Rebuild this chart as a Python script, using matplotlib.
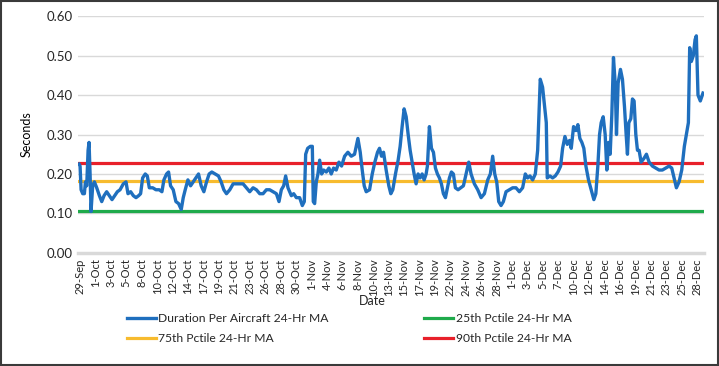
"""
Duration per aircraft (24-hr moving average) with percentile reference lines.
Writes out.png.
"""

from datetime import datetime, timedelta

import matplotlib
matplotlib.use("Agg")
import matplotlib.pyplot as plt
from matplotlib.patches import Rectangle

# ── data ─────────────────────────────────────────────────────────────────────

START = datetime(2018, 9, 29)

# days since 29-Sep 00:00
days = [
    -0.15, 0.0, 0.15, 0.39, 0.63, 0.78, 0.97, 1.17, 1.31, 1.46, 1.6, 1.84,
    2.09, 2.43, 2.82, 3.16, 3.5, 3.88, 4.27, 4.66, 5.05, 5.44, 5.83, 6.31,
    6.7, 6.99, 7.38, 7.77, 8.16, 8.54, 8.83, 9.13, 9.51, 9.81, 10.1, 10.6,
    11.07, 11.55, 11.94, 12.23, 12.62, 12.91, 13.2, 13.59, 13.98, 14.37,
    14.76, 15.05, 15.34, 15.73, 16.12, 16.5, 16.89, 17.28, 17.67, 18.06,
    18.45, 18.83, 19.22, 19.71, 20.19, 20.58, 20.97, 21.36, 21.84,
    22.33, 23.05, 23.78, 24.27, 24.75, 25.24, 25.72, 26.21, 26.69, 27.18,
    27.66, 28.15, 28.64, 29.02, 29.36, 29.7, 29.99, 30.33, 30.82, 31.16,
    31.55, 32.03, 32.42, 32.71, 32.91, 33.2, 33.59, 33.88, 34.02, 34.22,
    34.46, 34.7, 34.95, 35.24, 35.53, 35.92, 36.3, 36.64, 36.98, 37.37,
    37.76, 38.15, 38.59, 39.07, 39.56, 40.04, 40.29, 40.53, 40.87, 41.16,
    41.45, 41.74, 42.23, 42.62, 43.0, 43.39, 43.68, 43.97, 44.27, 44.65,
    45.04, 45.33, 45.62, 46.01, 46.4, 46.69, 46.98, 47.27, 47.57, 47.86,
    48.15, 48.44, 48.73, 49.02, 49.31, 49.6, 49.9, 50.19, 50.48, 50.67,
    50.96, 51.26, 51.55, 51.84, 52.13, 52.42, 52.71, 53.0, 53.3, 53.59,
    53.88, 54.17, 54.46, 54.75, 55.14, 55.53, 55.92, 56.31, 56.7, 57.04,
    57.52, 58.01, 58.5, 58.98, 59.47, 59.85, 60.19, 60.49, 60.78, 61.07,
    61.41, 61.75, 62.14, 62.62, 63.11, 63.59, 64.08, 64.56, 64.95, 65.29,
    65.63, 66.02, 66.41, 66.75, 66.94, 67.13, 67.47, 67.77, 68.01, 68.15,
    68.54, 68.93, 69.32, 69.71, 70.1, 70.39, 70.73, 71.07, 71.41, 71.65,
    71.99, 72.33, 72.62, 72.91, 73.2, 73.49, 73.79, 74.17, 74.56, 74.95,
    75.24, 75.53, 75.78, 76.02, 76.31, 76.6, 76.84, 77.09, 77.33, 77.57,
    77.81, 78.06, 78.25, 78.49, 78.83, 79.12, 79.42, 79.66, 79.85, 80.05,
    80.34, 80.58, 80.82, 81.07, 81.31, 81.55, 81.84, 82.28, 82.62, 83.01,
    83.49, 83.98, 84.46, 84.95, 85.43, 85.92, 86.31, 86.65, 86.99, 87.38,
    87.77, 88.15, 88.45, 88.74, 88.93, 89.17, 89.46, 89.71, 89.9, 90.14,
    90.48, 90.87,
]

duration = [
    0.225, 0.22, 0.16, 0.15, 0.15, 0.18, 0.17, 0.26, 0.28, 0.2, 0.105, 0.17,
    0.18, 0.165, 0.145, 0.13, 0.145, 0.155, 0.145, 0.135, 0.145, 0.155,
    0.16, 0.175, 0.18, 0.15, 0.155, 0.145, 0.14, 0.145, 0.15, 0.19, 0.2,
    0.195, 0.165, 0.165, 0.16, 0.16, 0.155, 0.185, 0.2, 0.205, 0.17, 0.16,
    0.13, 0.125, 0.11, 0.14, 0.16, 0.185, 0.17, 0.18, 0.19, 0.2, 0.17,
    0.155, 0.18, 0.2, 0.205, 0.2, 0.195, 0.18, 0.16, 0.15, 0.16,
    0.175, 0.175, 0.175, 0.165, 0.155, 0.165, 0.16, 0.15, 0.15, 0.16,
    0.16, 0.155, 0.15, 0.13, 0.16, 0.17, 0.195, 0.165, 0.145, 0.15,
    0.14, 0.14, 0.12, 0.13, 0.25, 0.265, 0.27, 0.27, 0.13, 0.125,
    0.18, 0.2, 0.235, 0.2, 0.21, 0.205, 0.215, 0.2, 0.215, 0.21,
    0.23, 0.22, 0.245, 0.255, 0.245, 0.25, 0.27, 0.29, 0.255, 0.21,
    0.17, 0.155, 0.16, 0.2, 0.23, 0.255, 0.265, 0.245, 0.255, 0.21,
    0.17, 0.15, 0.16, 0.2, 0.235, 0.27, 0.32, 0.365, 0.345, 0.3,
    0.26, 0.23, 0.2, 0.175, 0.2, 0.19, 0.2, 0.185, 0.2, 0.22,
    0.32, 0.265, 0.255, 0.215, 0.2, 0.19, 0.175, 0.15, 0.14, 0.165,
    0.19, 0.205, 0.2, 0.165, 0.16, 0.165, 0.17, 0.2, 0.23, 0.2,
    0.175, 0.16, 0.14, 0.15, 0.185, 0.2, 0.245, 0.2, 0.18, 0.13,
    0.12, 0.13, 0.155, 0.16, 0.165, 0.165, 0.155, 0.165, 0.2, 0.19,
    0.195, 0.185, 0.2, 0.26, 0.35, 0.44, 0.42, 0.37, 0.33, 0.19,
    0.195, 0.19, 0.195, 0.205, 0.22, 0.265, 0.295, 0.275, 0.285, 0.265,
    0.32, 0.31, 0.325, 0.29, 0.28, 0.265, 0.22, 0.185, 0.16, 0.135,
    0.15, 0.22, 0.3, 0.33, 0.345, 0.3, 0.21, 0.28, 0.25, 0.35,
    0.495, 0.43, 0.3, 0.43, 0.465, 0.44, 0.37, 0.3, 0.25, 0.33,
    0.34, 0.39, 0.385, 0.3, 0.26, 0.26, 0.23, 0.24, 0.25, 0.23,
    0.22, 0.215, 0.21, 0.21, 0.215, 0.22, 0.215, 0.19, 0.165, 0.18,
    0.21, 0.27, 0.3, 0.33, 0.52, 0.485, 0.5, 0.54, 0.55, 0.4,
    0.385, 0.405,
]

pctile_25 = 0.105
pctile_75 = 0.183
pctile_90 = 0.228

y_ticks = [0.0, 0.1, 0.2, 0.3, 0.4, 0.5, 0.6]
tick_step_hours = 54
n_ticks = 41

# ── palette ──────────────────────────────────────────────────────────────────

BLUE = "#1f6fbe"
GREEN = "#1faa4b"
GOLD = "#f7bb2e"
RED = "#e8202a"
GRID = "#d9d9d9"
TEXT = "#262626"

FONT = ["Lato", "DejaVu Sans"]


def tick_labels():
    out = []
    for k in range(n_ticks):
        d = START + timedelta(hours=k * tick_step_hours)
        out.append(f"{d.day}-{d.strftime('%b')}")
    return out


def main():
    plt.rcParams["font.family"] = FONT
    plt.rcParams["text.color"] = TEXT

    fig = plt.figure(figsize=(7.19, 3.66), dpi=100)
    ax = fig.add_axes([0.1085, 0.309, 0.870, 0.647])

    x0, x1 = days[0], days[-1]
    l_dur, = ax.plot(days, duration, color=BLUE, lw=2.4, solid_joinstyle="round",
                     zorder=4, label="Duration Per Aircraft 24-Hr MA")
    l25, = ax.plot([x0, x1], [pctile_25] * 2, color=GREEN, lw=2.3, zorder=3,
                   label="25th Pctile 24-Hr MA")
    l75, = ax.plot([x0, x1], [pctile_75] * 2, color=GOLD, lw=2.3, zorder=3,
                   label="75th Pctile 24-Hr MA")
    l90, = ax.plot([x0, x1], [pctile_90] * 2, color=RED, lw=2.3, zorder=3,
                   label="90th Pctile 24-Hr MA")

    ax.set_xlim(-0.3, 90.95)
    ax.set_ylim(0, 0.6)
    ax.set_yticks(y_ticks)
    ax.set_yticklabels([f"{v:.2f}" for v in y_ticks], fontsize=9.5, color=TEXT)
    ax.set_xticks([k * tick_step_hours / 24 for k in range(n_ticks)])
    ax.set_xticklabels(tick_labels(), rotation=90, fontsize=8, color=TEXT)
    ax.tick_params(length=0, pad=4)

    ax.grid(axis="y", color=GRID, lw=1)
    ax.set_axisbelow(True)
    for side in ("top", "right", "left"):
        ax.spines[side].set_visible(False)
    ax.spines["bottom"].set_color(GRID)
    ax.spines["bottom"].set_linewidth(2.5)

    ax.set_ylabel("Seconds", fontsize=9, labelpad=10)
    fig.text(372 / 719, 1 - 301 / 366, "Date", fontsize=9, ha="center", va="center")

    fig.legend([l_dur, l75, l25, l90],
               [h.get_label() for h in (l_dur, l75, l25, l90)],
               ncol=2, frameon=False, loc="upper left",
               bbox_to_anchor=(127 / 719, 1 - 313 / 366),
               borderaxespad=0, borderpad=0, fontsize=8.7,
               handlelength=2.4, handletextpad=0.2,
               columnspacing=7.9, labelspacing=0.75)

    fig.patches.append(Rectangle((0.001, 0.002), 0.997, 0.996, transform=fig.transFigure,
                                 fill=False, edgecolor="#3a3a3a", lw=1.5))

    fig.savefig("out.png", dpi=100)


if __name__ == "__main__":
    main()
